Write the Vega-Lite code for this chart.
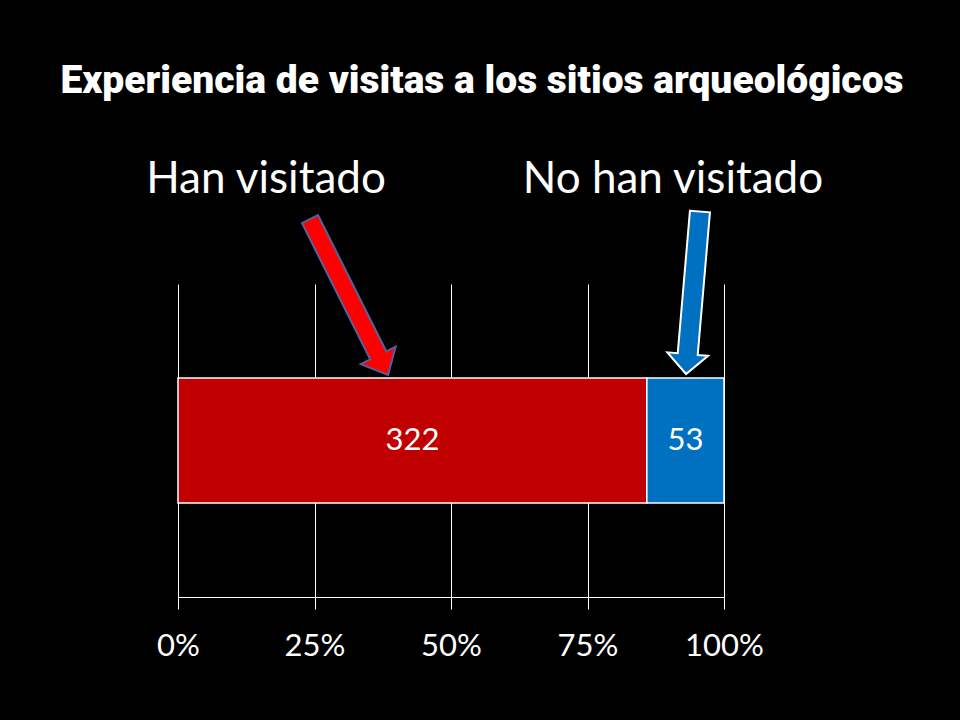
{
  "$schema": "https://vega.github.io/schema/vega-lite/v6.json",
  "background": "black",
  "autosize": {"type": "none"},
  "padding": {"left": 178, "top": 284, "right": 236, "bottom": 123},
  "width": 546,
  "height": 313,
  "title": {
    "text": "Experiencia de visitas a los sitios arqueológicos",
    "font": "Roboto",
    "fontWeight": 900,
    "fontSize": 39,
    "color": "white",
    "anchor": "middle",
    "frame": "group",
    "dx": 31,
    "offset": 26,
    "baseline": "alphabetic"
  },
  "config": {
    "view": {"stroke": null},
    "axisX": {
      "labelFont": "Lato",
      "labelFontSize": 31,
      "labelColor": "white",
      "labelPadding": 22,
      "labelFlush": false,
      "labelOverlap": false,
      "tickSize": 12,
      "tickColor": "white",
      "tickWidth": 1,
      "domainColor": "white",
      "domainWidth": 1,
      "gridColor": "white",
      "gridOpacity": 1,
      "gridWidth": 1
    }
  },
  "resolve": {"scale": {"y": "independent"}},
  "layer": [
    {
      "data": {"values": [
        {"fila": "Experiencia", "grupo": "Han visitado", "n": 322},
        {"fila": "Experiencia", "grupo": "No han visitado", "n": 53}
      ]},
      "mark": {"type": "bar", "stroke": "white", "strokeWidth": 1.5},
      "encoding": {
        "x": {
          "field": "n", "type": "quantitative", "stack": "normalize", "title": null,
          "scale": {"domain": [0, 1], "nice": false},
          "axis": {"values": [0, 0.25, 0.5, 0.75, 1], "format": ".0%", "grid": true, "title": null}
        },
        "y": {"field": "fila", "type": "nominal", "axis": null, "scale": {"paddingInner": 0, "paddingOuter": 0.752}},
        "color": {"field": "grupo", "type": "nominal", "scale": {"domain": ["Han visitado", "No han visitado"], "range": ["#C00000", "#0070C0"]}, "legend": null},
        "order": {"field": "grupo"}
      }
    },
    {
      "data": {"values": [
        {"fila": "Experiencia", "grupo": "Han visitado", "n": 322},
        {"fila": "Experiencia", "grupo": "No han visitado", "n": 53}
      ]},
      "transform": [
        {"stack": "n", "groupby": ["fila"], "sort": [{"field": "grupo", "order": "ascending"}], "offset": "normalize", "as": ["x0", "x1"]},
        {"fold": ["x0", "x1"], "as": ["borde", "pos"]},
        {"aggregate": [{"op": "mean", "field": "pos", "as": "centro"}, {"op": "max", "field": "n", "as": "n"}], "groupby": ["fila", "grupo"]}
      ],
      "mark": {"type": "text", "font": "Lato", "fontSize": 31, "fill": "white", "align": "center", "baseline": "middle"},
      "encoding": {
        "x": {"field": "centro", "type": "quantitative", "title": null},
        "y": {"field": "fila", "type": "nominal", "axis": null, "scale": {"paddingInner": 0, "paddingOuter": 0.752}},
        "text": {"field": "n", "type": "quantitative"}
      }
    },
    {
      "data": {"values": [
        {"etiqueta": "Han visitado", "px": 0.1612, "py": 1.2907},
        {"etiqueta": "No han visitado", "px": 0.9066, "py": 1.2907}
      ]},
      "mark": {"type": "text", "font": "Lato", "fontSize": 44, "fill": "white", "align": "center", "baseline": "alphabetic"},
      "encoding": {
        "x": {"field": "px", "type": "quantitative", "title": null},
        "y": {"field": "py", "type": "quantitative", "axis": null, "scale": {"domain": [0, 1], "nice": false, "zero": false}},
        "text": {"field": "etiqueta", "type": "nominal"}
      }
    },
    {
      "data": {"values": [
        {"flecha": "Han visitado", "px": 0.3132, "py": 0.9585}
      ]},
      "mark": {
        "type": "point",
        "shape": "M-0.103,-1L0.103,-1L0.103,0.748L0.224,0.748L0,1L-0.224,0.748L-0.103,0.748Z",
        "size": 30415,
        "angle": -26.6,
        "filled": true,
        "fill": "#FF0000",
        "stroke": "#52639B",
        "strokeWidth": 2,
        "opacity": 1
      },
      "encoding": {
        "x": {"field": "px", "type": "quantitative", "title": null},
        "y": {"field": "py", "type": "quantitative", "axis": null, "scale": {"domain": [0, 1], "nice": false, "zero": false}}
      }
    },
    {
      "data": {"values": [
        {"flecha": "No han visitado", "px": 0.9432, "py": 0.972}
      ]},
      "mark": {
        "type": "point",
        "shape": "M-0.123,-1L0.123,-1L0.123,0.755L0.251,0.755L0,1L-0.251,0.755L-0.123,0.755Z",
        "size": 26602,
        "angle": 4.9,
        "filled": true,
        "fill": "#0070C0",
        "stroke": "white",
        "strokeWidth": 2,
        "opacity": 1
      },
      "encoding": {
        "x": {"field": "px", "type": "quantitative", "title": null},
        "y": {"field": "py", "type": "quantitative", "axis": null, "scale": {"domain": [0, 1], "nice": false, "zero": false}}
      }
    }
  ]
}
